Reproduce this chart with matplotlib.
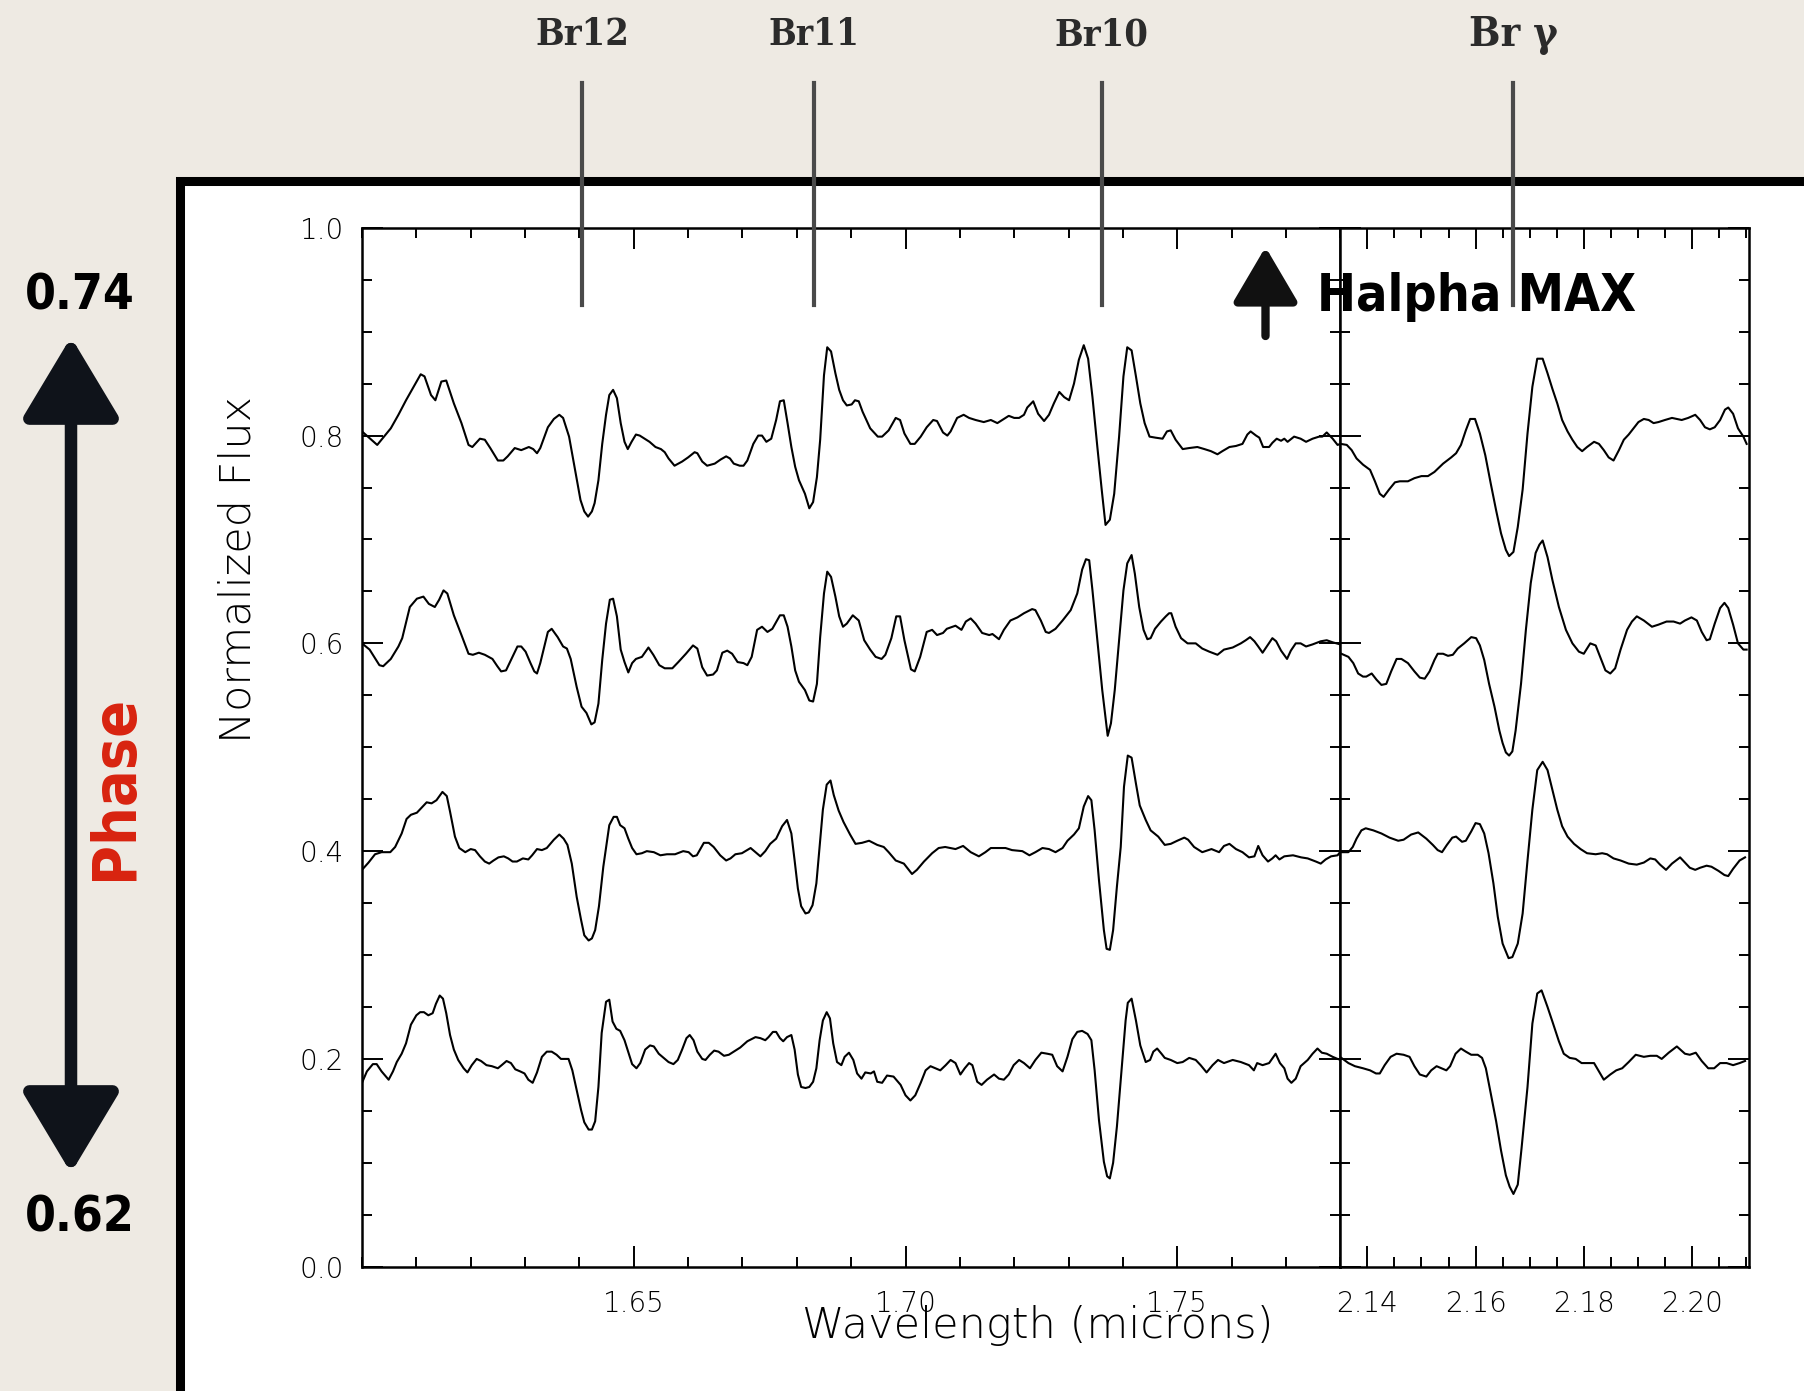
import matplotlib
matplotlib.use("Agg")
import matplotlib.pyplot as plt
import matplotlib.transforms as mtransforms
from matplotlib import font_manager
from matplotlib.font_manager import FontProperties
from matplotlib.patches import Rectangle, FancyArrowPatch
from matplotlib.ticker import MultipleLocator

# ---- data ----
# H band panel, four phases (top = 0.74 ... bottom = 0.62)
wl_h1 = [1.6000, 1.6028, 1.6053, 1.6067, 1.6081, 1.6095, 1.6108, 1.6115, 1.6127, 1.6135, 1.6146, 1.6155,
         1.6169, 1.6183, 1.6196, 1.6203, 1.6217, 1.6226, 1.6236, 1.6250, 1.6260, 1.6268, 1.6281, 1.6293,
         1.6307, 1.6315, 1.6322, 1.6328, 1.6342, 1.6353, 1.6363, 1.6370, 1.6381, 1.6392, 1.6402, 1.6409,
         1.6416, 1.6423, 1.6428, 1.6435, 1.6442, 1.6449, 1.6455, 1.6462, 1.6469, 1.6476, 1.6483, 1.6489,
         1.6496, 1.6504, 1.6511, 1.6520, 1.6529, 1.6540, 1.6550, 1.6557, 1.6564, 1.6575, 1.6589, 1.6600,
         1.6612, 1.6617, 1.6626, 1.6635, 1.6649, 1.6660, 1.6670, 1.6677, 1.6684, 1.6695, 1.6702, 1.6709,
         1.6720, 1.6729, 1.6736, 1.6744, 1.6753, 1.6762, 1.6769, 1.6776, 1.6783, 1.6790, 1.6797, 1.6804,
         1.6815, 1.6823, 1.6830, 1.6837, 1.6843, 1.6850, 1.6856, 1.6863, 1.6871, 1.6878, 1.6885, 1.6892,
         1.6901, 1.6907, 1.6914, 1.6921, 1.6935, 1.6949, 1.6957, 1.6969, 1.6982, 1.6990, 1.6998, 1.7009,
         1.7017, 1.7028, 1.7039, 1.7051, 1.7058, 1.7069, 1.7077, 1.7083, 1.7095, 1.7107, 1.7117, 1.7129,
         1.7144, 1.7157, 1.7169, 1.7178, 1.7190, 1.7200, 1.7209, 1.7218, 1.7224, 1.7235, 1.7244, 1.7255,
         1.7264, 1.7273, 1.7283, 1.7292, 1.7301, 1.7310, 1.7319, 1.7328, 1.7336, 1.7344, 1.7353, 1.7361,
         1.7368, 1.7376, 1.7384, 1.7393, 1.7401, 1.7408, 1.7416, 1.7424, 1.7432, 1.7440, 1.7449, 1.7460,
         1.7473, 1.7481, 1.7488, 1.7497, 1.7510, 1.7522, 1.7537, 1.7550, 1.7562, 1.7574, 1.7583, 1.7596,
         1.7608, 1.7620, 1.7629, 1.7635, 1.7645, 1.7651, 1.7658, 1.7669, 1.7675, 1.7683, 1.7691, 1.7697,
         1.7703, 1.7715, 1.7727, 1.7737, 1.7749, 1.7761, 1.7767, 1.7775, 1.7786, 1.7795, 1.7800]
fx_h1 = [0.804, 0.791, 0.807, 0.820, 0.834, 0.847, 0.859, 0.857, 0.839, 0.834, 0.852, 0.853,
         0.831, 0.812, 0.791, 0.789, 0.797, 0.796, 0.788, 0.776, 0.776, 0.780, 0.788, 0.786,
         0.789, 0.787, 0.783, 0.788, 0.808, 0.816, 0.820, 0.817, 0.799, 0.767, 0.738, 0.727,
         0.722, 0.727, 0.735, 0.757, 0.792, 0.820, 0.839, 0.844, 0.836, 0.812, 0.794, 0.787,
         0.794, 0.801, 0.800, 0.797, 0.794, 0.789, 0.787, 0.784, 0.778, 0.771, 0.775, 0.779,
         0.784, 0.783, 0.775, 0.771, 0.773, 0.777, 0.780, 0.778, 0.773, 0.771, 0.771, 0.776,
         0.792, 0.800, 0.800, 0.794, 0.797, 0.815, 0.833, 0.834, 0.812, 0.789, 0.770, 0.757,
         0.744, 0.730, 0.736, 0.760, 0.796, 0.858, 0.885, 0.881, 0.860, 0.844, 0.834, 0.829,
         0.830, 0.834, 0.833, 0.823, 0.807, 0.799, 0.799, 0.805, 0.817, 0.815, 0.802, 0.792,
         0.792, 0.799, 0.808, 0.815, 0.814, 0.803, 0.800, 0.804, 0.817, 0.820, 0.817, 0.815,
         0.813, 0.815, 0.812, 0.815, 0.819, 0.817, 0.817, 0.820, 0.827, 0.833, 0.821, 0.814,
         0.820, 0.831, 0.842, 0.837, 0.834, 0.850, 0.873, 0.887, 0.874, 0.837, 0.789, 0.748,
         0.714, 0.719, 0.744, 0.799, 0.857, 0.885, 0.882, 0.857, 0.831, 0.812, 0.799, 0.798,
         0.797, 0.804, 0.805, 0.796, 0.787, 0.788, 0.789, 0.787, 0.785, 0.782, 0.785, 0.789,
         0.790, 0.792, 0.801, 0.804, 0.800, 0.798, 0.789, 0.789, 0.793, 0.797, 0.795, 0.797,
         0.794, 0.799, 0.797, 0.794, 0.797, 0.799, 0.799, 0.803, 0.797, 0.791, 0.792]

wl_h2 = [1.6000, 1.6014, 1.6032, 1.6039, 1.6053, 1.6067, 1.6074, 1.6088, 1.6101, 1.6113, 1.6123, 1.6134,
         1.6142, 1.6150, 1.6157, 1.6169, 1.6183, 1.6196, 1.6204, 1.6215, 1.6226, 1.6240, 1.6249, 1.6256,
         1.6265, 1.6275, 1.6286, 1.6293, 1.6301, 1.6310, 1.6317, 1.6322, 1.6328, 1.6342, 1.6349, 1.6360,
         1.6370, 1.6377, 1.6384, 1.6395, 1.6404, 1.6413, 1.6422, 1.6428, 1.6435, 1.6442, 1.6449, 1.6456,
         1.6462, 1.6469, 1.6476, 1.6483, 1.6490, 1.6497, 1.6504, 1.6515, 1.6527, 1.6536, 1.6547, 1.6557,
         1.6571, 1.6582, 1.6596, 1.6609, 1.6617, 1.6626, 1.6635, 1.6646, 1.6653, 1.6663, 1.6672, 1.6681,
         1.6691, 1.6702, 1.6709, 1.6717, 1.6727, 1.6736, 1.6746, 1.6755, 1.6769, 1.6776, 1.6783, 1.6790,
         1.6797, 1.6804, 1.6815, 1.6823, 1.6830, 1.6837, 1.6843, 1.6850, 1.6856, 1.6863, 1.6871, 1.6878,
         1.6885, 1.6892, 1.6903, 1.6914, 1.6924, 1.6935, 1.6945, 1.6956, 1.6963, 1.6974, 1.6983, 1.6990,
         1.6998, 1.7010, 1.7017, 1.7027, 1.7039, 1.7049, 1.7058, 1.7069, 1.7076, 1.7092, 1.7103, 1.7111,
         1.7120, 1.7129, 1.7141, 1.7154, 1.7160, 1.7172, 1.7181, 1.7193, 1.7206, 1.7218, 1.7233, 1.7239,
         1.7249, 1.7258, 1.7264, 1.7276, 1.7289, 1.7304, 1.7316, 1.7325, 1.7332, 1.7338, 1.7344, 1.7353,
         1.7362, 1.7372, 1.7378, 1.7385, 1.7393, 1.7401, 1.7408, 1.7416, 1.7422, 1.7430, 1.7438, 1.7445,
         1.7451, 1.7459, 1.7470, 1.7479, 1.7485, 1.7489, 1.7497, 1.7507, 1.7519, 1.7534, 1.7546, 1.7559,
         1.7574, 1.7586, 1.7602, 1.7617, 1.7626, 1.7634, 1.7642, 1.7649, 1.7657, 1.7666, 1.7675, 1.7682,
         1.7691, 1.7702, 1.7709, 1.7718, 1.7727, 1.7737, 1.7749, 1.7764, 1.7775, 1.7786, 1.7800]
fx_h2 = [0.600, 0.594, 0.579, 0.578, 0.585, 0.597, 0.605, 0.635, 0.643, 0.645, 0.638, 0.635,
         0.642, 0.651, 0.648, 0.627, 0.608, 0.590, 0.589, 0.591, 0.589, 0.585, 0.578, 0.573,
         0.574, 0.585, 0.597, 0.597, 0.592, 0.581, 0.573, 0.571, 0.581, 0.611, 0.614, 0.606,
         0.597, 0.595, 0.585, 0.558, 0.539, 0.533, 0.522, 0.524, 0.542, 0.584, 0.619, 0.642,
         0.643, 0.626, 0.594, 0.582, 0.572, 0.581, 0.585, 0.587, 0.596, 0.589, 0.579, 0.576,
         0.576, 0.582, 0.590, 0.598, 0.595, 0.577, 0.569, 0.570, 0.574, 0.591, 0.593, 0.590,
         0.582, 0.581, 0.579, 0.587, 0.613, 0.616, 0.611, 0.614, 0.627, 0.627, 0.616, 0.597,
         0.574, 0.563, 0.555, 0.545, 0.544, 0.561, 0.606, 0.648, 0.669, 0.664, 0.645, 0.626,
         0.616, 0.619, 0.627, 0.622, 0.603, 0.594, 0.587, 0.585, 0.589, 0.605, 0.626, 0.626,
         0.603, 0.575, 0.573, 0.587, 0.611, 0.613, 0.608, 0.610, 0.614, 0.617, 0.613, 0.621,
         0.624, 0.619, 0.610, 0.608, 0.609, 0.604, 0.613, 0.622, 0.625, 0.629, 0.633, 0.632,
         0.622, 0.611, 0.610, 0.614, 0.622, 0.632, 0.648, 0.671, 0.681, 0.680, 0.651, 0.603,
         0.555, 0.511, 0.523, 0.555, 0.603, 0.651, 0.677, 0.685, 0.667, 0.635, 0.613, 0.604,
         0.605, 0.614, 0.621, 0.626, 0.629, 0.629, 0.616, 0.605, 0.600, 0.600, 0.595, 0.592,
         0.589, 0.594, 0.596, 0.600, 0.603, 0.606, 0.602, 0.597, 0.591, 0.598, 0.605, 0.602,
         0.593, 0.585, 0.593, 0.600, 0.600, 0.597, 0.599, 0.602, 0.603, 0.601, 0.599]

wl_h3 = [1.6000, 1.6012, 1.6024, 1.6036, 1.6052, 1.6061, 1.6073, 1.6082, 1.6090, 1.6101, 1.6110, 1.6119,
         1.6128, 1.6137, 1.6148, 1.6156, 1.6162, 1.6171, 1.6179, 1.6190, 1.6200, 1.6208, 1.6217, 1.6226,
         1.6234, 1.6242, 1.6251, 1.6261, 1.6269, 1.6277, 1.6285, 1.6296, 1.6306, 1.6313, 1.6322, 1.6331,
         1.6340, 1.6353, 1.6363, 1.6371, 1.6378, 1.6386, 1.6395, 1.6403, 1.6409, 1.6417, 1.6423, 1.6429,
         1.6436, 1.6444, 1.6455, 1.6463, 1.6469, 1.6475, 1.6483, 1.6490, 1.6497, 1.6505, 1.6515, 1.6524,
         1.6537, 1.6549, 1.6561, 1.6576, 1.6591, 1.6601, 1.6609, 1.6616, 1.6629, 1.6638, 1.6647, 1.6659,
         1.6670, 1.6678, 1.6687, 1.6699, 1.6715, 1.6724, 1.6733, 1.6742, 1.6751, 1.6762, 1.6773, 1.6782,
         1.6790, 1.6796, 1.6802, 1.6808, 1.6816, 1.6822, 1.6829, 1.6836, 1.6842, 1.6848, 1.6855, 1.6862,
         1.6868, 1.6877, 1.6886, 1.6898, 1.6908, 1.6920, 1.6933, 1.6948, 1.6960, 1.6969, 1.6982, 1.6997,
         1.7012, 1.7021, 1.7034, 1.7049, 1.7061, 1.7073, 1.7092, 1.7106, 1.7120, 1.7135, 1.7147, 1.7157,
         1.7169, 1.7184, 1.7196, 1.7215, 1.7228, 1.7239, 1.7252, 1.7264, 1.7276, 1.7289, 1.7298, 1.7310,
         1.7319, 1.7328, 1.7336, 1.7342, 1.7348, 1.7356, 1.7365, 1.7370, 1.7376, 1.7382, 1.7389, 1.7396,
         1.7402, 1.7409, 1.7416, 1.7424, 1.7431, 1.7442, 1.7451, 1.7465, 1.7477, 1.7488, 1.7500, 1.7513,
         1.7520, 1.7531, 1.7546, 1.7563, 1.7577, 1.7586, 1.7596, 1.7608, 1.7620, 1.7632, 1.7642, 1.7649,
         1.7657, 1.7667, 1.7675, 1.7681, 1.7688, 1.7697, 1.7713, 1.7728, 1.7740, 1.7755, 1.7764, 1.7773,
         1.7783, 1.7795, 1.7801]
fx_h3 = [0.382, 0.389, 0.397, 0.399, 0.399, 0.404, 0.417, 0.431, 0.435, 0.437, 0.442, 0.447,
         0.446, 0.449, 0.457, 0.453, 0.438, 0.414, 0.403, 0.399, 0.402, 0.401, 0.395, 0.390,
         0.388, 0.391, 0.394, 0.395, 0.393, 0.390, 0.390, 0.393, 0.392, 0.396, 0.402, 0.401,
         0.403, 0.411, 0.416, 0.412, 0.406, 0.388, 0.356, 0.334, 0.319, 0.314, 0.316, 0.324,
         0.347, 0.385, 0.425, 0.433, 0.433, 0.425, 0.422, 0.412, 0.403, 0.397, 0.398, 0.400,
         0.399, 0.396, 0.397, 0.397, 0.400, 0.399, 0.395, 0.396, 0.408, 0.408, 0.404, 0.396,
         0.391, 0.393, 0.397, 0.398, 0.403, 0.399, 0.395, 0.400, 0.407, 0.412, 0.424, 0.430,
         0.417, 0.391, 0.364, 0.347, 0.340, 0.341, 0.348, 0.369, 0.404, 0.440, 0.464, 0.468,
         0.454, 0.439, 0.428, 0.416, 0.407, 0.408, 0.410, 0.406, 0.404, 0.399, 0.391, 0.388,
         0.378, 0.382, 0.390, 0.398, 0.403, 0.404, 0.402, 0.405, 0.399, 0.395, 0.399, 0.403,
         0.403, 0.403, 0.401, 0.400, 0.396, 0.399, 0.403, 0.402, 0.399, 0.403, 0.410, 0.416,
         0.422, 0.443, 0.453, 0.449, 0.420, 0.372, 0.324, 0.306, 0.305, 0.324, 0.366, 0.404,
         0.462, 0.492, 0.490, 0.465, 0.444, 0.430, 0.420, 0.414, 0.406, 0.407, 0.410, 0.413,
         0.411, 0.404, 0.399, 0.402, 0.399, 0.405, 0.407, 0.402, 0.399, 0.394, 0.395, 0.405,
         0.396, 0.390, 0.393, 0.396, 0.392, 0.395, 0.396, 0.394, 0.393, 0.390, 0.388, 0.392,
         0.395, 0.396, 0.400]

wl_h4 = [1.6000, 1.6009, 1.6020, 1.6027, 1.6036, 1.6049, 1.6057, 1.6064, 1.6073, 1.6081, 1.6090, 1.6100,
         1.6107, 1.6114, 1.6122, 1.6130, 1.6136, 1.6143, 1.6149, 1.6155, 1.6162, 1.6169, 1.6177, 1.6187,
         1.6194, 1.6202, 1.6211, 1.6219, 1.6229, 1.6239, 1.6250, 1.6257, 1.6266, 1.6274, 1.6282, 1.6291,
         1.6299, 1.6306, 1.6314, 1.6322, 1.6331, 1.6340, 1.6349, 1.6358, 1.6366, 1.6374, 1.6380, 1.6387,
         1.6395, 1.6403, 1.6409, 1.6417, 1.6423, 1.6429, 1.6435, 1.6441, 1.6449, 1.6455, 1.6461, 1.6468,
         1.6475, 1.6483, 1.6491, 1.6497, 1.6505, 1.6512, 1.6521, 1.6530, 1.6537, 1.6546, 1.6555, 1.6564,
         1.6573, 1.6581, 1.6589, 1.6597, 1.6603, 1.6610, 1.6617, 1.6626, 1.6632, 1.6640, 1.6648, 1.6656,
         1.6666, 1.6675, 1.6684, 1.6696, 1.6709, 1.6724, 1.6733, 1.6742, 1.6748, 1.6756, 1.6762, 1.6769,
         1.6775, 1.6782, 1.6790, 1.6796, 1.6802, 1.6808, 1.6816, 1.6823, 1.6830, 1.6836, 1.6842, 1.6848,
         1.6855, 1.6861, 1.6867, 1.6874, 1.6882, 1.6888, 1.6896, 1.6904, 1.6911, 1.6919, 1.6926, 1.6936,
         1.6942, 1.6948, 1.6957, 1.6966, 1.6978, 1.6991, 1.7000, 1.7009, 1.7018, 1.7028, 1.7037, 1.7046,
         1.7055, 1.7064, 1.7074, 1.7083, 1.7092, 1.7101, 1.7109, 1.7117, 1.7123, 1.7132, 1.7140, 1.7150,
         1.7163, 1.7172, 1.7181, 1.7190, 1.7199, 1.7209, 1.7218, 1.7229, 1.7239, 1.7250, 1.7261, 1.7270,
         1.7279, 1.7289, 1.7298, 1.7307, 1.7316, 1.7325, 1.7335, 1.7342, 1.7348, 1.7356, 1.7365, 1.7371,
         1.7376, 1.7382, 1.7389, 1.7397, 1.7405, 1.7409, 1.7416, 1.7424, 1.7432, 1.7442, 1.7450, 1.7456,
         1.7463, 1.7471, 1.7477, 1.7488, 1.7500, 1.7510, 1.7522, 1.7534, 1.7543, 1.7554, 1.7565, 1.7575,
         1.7586, 1.7602, 1.7617, 1.7632, 1.7641, 1.7647, 1.7657, 1.7669, 1.7681, 1.7689, 1.7697, 1.7703,
         1.7710, 1.7718, 1.7727, 1.7740, 1.7749, 1.7758, 1.7766, 1.7775, 1.7786, 1.7795, 1.7801]
fx_h4 = [0.177, 0.188, 0.195, 0.195, 0.188, 0.180, 0.188, 0.197, 0.205, 0.215, 0.233, 0.242,
         0.245, 0.245, 0.242, 0.244, 0.253, 0.261, 0.258, 0.244, 0.223, 0.209, 0.199, 0.191,
         0.187, 0.194, 0.200, 0.198, 0.194, 0.193, 0.191, 0.194, 0.198, 0.196, 0.190, 0.188,
         0.186, 0.180, 0.177, 0.187, 0.202, 0.207, 0.207, 0.204, 0.200, 0.200, 0.200, 0.189,
         0.170, 0.151, 0.139, 0.132, 0.132, 0.140, 0.173, 0.225, 0.255, 0.257, 0.236, 0.229,
         0.227, 0.218, 0.205, 0.195, 0.191, 0.196, 0.209, 0.213, 0.212, 0.205, 0.201, 0.197,
         0.195, 0.199, 0.209, 0.220, 0.223, 0.218, 0.207, 0.200, 0.199, 0.204, 0.208, 0.207,
         0.203, 0.204, 0.207, 0.211, 0.217, 0.221, 0.220, 0.218, 0.221, 0.226, 0.226, 0.220,
         0.217, 0.221, 0.223, 0.209, 0.185, 0.173, 0.172, 0.173, 0.178, 0.191, 0.218, 0.237,
         0.245, 0.239, 0.215, 0.197, 0.194, 0.202, 0.206, 0.199, 0.186, 0.181, 0.187, 0.186,
         0.188, 0.178, 0.177, 0.184, 0.183, 0.175, 0.165, 0.160, 0.165, 0.177, 0.189, 0.193,
         0.191, 0.189, 0.194, 0.199, 0.196, 0.185, 0.191, 0.196, 0.194, 0.178, 0.175, 0.180,
         0.185, 0.181, 0.180, 0.185, 0.194, 0.199, 0.196, 0.191, 0.199, 0.206, 0.205, 0.204,
         0.193, 0.188, 0.202, 0.219, 0.226, 0.227, 0.224, 0.218, 0.189, 0.141, 0.101, 0.087,
         0.085, 0.100, 0.135, 0.186, 0.237, 0.254, 0.258, 0.237, 0.213, 0.197, 0.199, 0.207,
         0.210, 0.205, 0.201, 0.199, 0.196, 0.197, 0.201, 0.199, 0.194, 0.187, 0.194, 0.199,
         0.196, 0.199, 0.197, 0.194, 0.189, 0.196, 0.194, 0.196, 0.205, 0.196, 0.191, 0.181,
         0.177, 0.181, 0.193, 0.199, 0.205, 0.210, 0.206, 0.205, 0.202, 0.200, 0.199]

# K band panel (Br gamma), same four phases
wl_k1 = [2.1351, 2.1362, 2.1371, 2.1380, 2.1392, 2.1405, 2.1414, 2.1423, 2.1430, 2.1440, 2.1451, 2.1460,
         2.1475, 2.1487, 2.1500, 2.1512, 2.1524, 2.1540, 2.1555, 2.1564, 2.1573, 2.1582, 2.1590, 2.1599,
         2.1608, 2.1618, 2.1628, 2.1638, 2.1647, 2.1656, 2.1662, 2.1670, 2.1678, 2.1687, 2.1696, 2.1705,
         2.1714, 2.1724, 2.1733, 2.1742, 2.1751, 2.1760, 2.1770, 2.1779, 2.1788, 2.1797, 2.1806, 2.1819,
         2.1828, 2.1837, 2.1846, 2.1855, 2.1865, 2.1874, 2.1883, 2.1892, 2.1901, 2.1911, 2.1920, 2.1929,
         2.1938, 2.1950, 2.1963, 2.1972, 2.1981, 2.1993, 2.2006, 2.2015, 2.2024, 2.2033, 2.2042, 2.2052,
         2.2061, 2.2067, 2.2076, 2.2085, 2.2095, 2.2101]
fx_k1 = [0.792, 0.791, 0.786, 0.778, 0.772, 0.767, 0.756, 0.744, 0.741, 0.748, 0.755, 0.756,
         0.756, 0.759, 0.761, 0.761, 0.765, 0.773, 0.779, 0.783, 0.791, 0.805, 0.816, 0.816,
         0.802, 0.781, 0.754, 0.728, 0.706, 0.690, 0.684, 0.688, 0.712, 0.748, 0.802, 0.847,
         0.874, 0.874, 0.860, 0.845, 0.831, 0.815, 0.804, 0.796, 0.789, 0.785, 0.789, 0.794,
         0.792, 0.786, 0.779, 0.776, 0.786, 0.796, 0.801, 0.807, 0.813, 0.816, 0.815, 0.812,
         0.813, 0.815, 0.817, 0.816, 0.815, 0.817, 0.820, 0.815, 0.808, 0.806, 0.808, 0.815,
         0.825, 0.827, 0.821, 0.807, 0.799, 0.792]

wl_k2 = [2.1352, 2.1365, 2.1374, 2.1383, 2.1392, 2.1398, 2.1408, 2.1417, 2.1426, 2.1435, 2.1444, 2.1454,
         2.1463, 2.1475, 2.1487, 2.1497, 2.1506, 2.1515, 2.1524, 2.1530, 2.1540, 2.1549, 2.1558, 2.1567,
         2.1579, 2.1592, 2.1601, 2.1608, 2.1616, 2.1625, 2.1635, 2.1644, 2.1650, 2.1656, 2.1662, 2.1668,
         2.1674, 2.1684, 2.1693, 2.1702, 2.1711, 2.1718, 2.1724, 2.1733, 2.1742, 2.1754, 2.1767, 2.1779,
         2.1791, 2.1800, 2.1812, 2.1822, 2.1831, 2.1840, 2.1849, 2.1858, 2.1868, 2.1880, 2.1889, 2.1898,
         2.1911, 2.1926, 2.1938, 2.1953, 2.1966, 2.1978, 2.1987, 2.1999, 2.2009, 2.2018, 2.2027, 2.2033,
         2.2042, 2.2052, 2.2060, 2.2067, 2.2076, 2.2085, 2.2095, 2.2101]
fx_k2 = [0.590, 0.587, 0.581, 0.571, 0.568, 0.568, 0.571, 0.565, 0.560, 0.561, 0.573, 0.585,
         0.585, 0.581, 0.573, 0.567, 0.566, 0.573, 0.584, 0.590, 0.590, 0.588, 0.589, 0.595,
         0.600, 0.606, 0.605, 0.598, 0.584, 0.561, 0.539, 0.516, 0.504, 0.495, 0.492, 0.496,
         0.516, 0.561, 0.613, 0.658, 0.687, 0.695, 0.699, 0.683, 0.661, 0.635, 0.613, 0.600,
         0.592, 0.590, 0.600, 0.598, 0.586, 0.574, 0.571, 0.576, 0.594, 0.613, 0.621, 0.626,
         0.622, 0.616, 0.618, 0.621, 0.621, 0.619, 0.622, 0.625, 0.622, 0.611, 0.603, 0.604,
         0.619, 0.634, 0.639, 0.634, 0.618, 0.600, 0.594, 0.594]

wl_k3 = [2.1351, 2.1365, 2.1373, 2.1380, 2.1389, 2.1397, 2.1411, 2.1426, 2.1441, 2.1457, 2.1467, 2.1481,
         2.1494, 2.1509, 2.1521, 2.1530, 2.1538, 2.1547, 2.1557, 2.1564, 2.1575, 2.1582, 2.1592, 2.1600,
         2.1608, 2.1616, 2.1624, 2.1633, 2.1641, 2.1650, 2.1661, 2.1668, 2.1678, 2.1687, 2.1696, 2.1705,
         2.1714, 2.1724, 2.1733, 2.1742, 2.1751, 2.1760, 2.1770, 2.1782, 2.1794, 2.1806, 2.1822, 2.1834,
         2.1843, 2.1855, 2.1868, 2.1883, 2.1898, 2.1911, 2.1923, 2.1932, 2.1941, 2.1952, 2.1963, 2.1978,
         2.1987, 2.1996, 2.2006, 2.2015, 2.2027, 2.2036, 2.2049, 2.2060, 2.2067, 2.2076, 2.2088, 2.2098]
fx_k3 = [0.399, 0.399, 0.404, 0.412, 0.420, 0.422, 0.420, 0.417, 0.413, 0.410, 0.411, 0.416,
         0.418, 0.412, 0.406, 0.401, 0.399, 0.406, 0.413, 0.414, 0.409, 0.410, 0.419, 0.427,
         0.426, 0.417, 0.398, 0.369, 0.337, 0.311, 0.297, 0.298, 0.311, 0.340, 0.391, 0.440,
         0.478, 0.486, 0.478, 0.459, 0.440, 0.424, 0.414, 0.407, 0.402, 0.398, 0.397, 0.398,
         0.397, 0.393, 0.391, 0.388, 0.387, 0.389, 0.393, 0.392, 0.387, 0.382, 0.388, 0.394,
         0.389, 0.384, 0.382, 0.384, 0.386, 0.385, 0.381, 0.377, 0.376, 0.383, 0.391, 0.394]

wl_k4 = [2.1352, 2.1365, 2.1377, 2.1392, 2.1405, 2.1416, 2.1423, 2.1432, 2.1443, 2.1454, 2.1467, 2.1478,
         2.1487, 2.1497, 2.1509, 2.1518, 2.1528, 2.1546, 2.1553, 2.1563, 2.1573, 2.1582, 2.1592, 2.1604,
         2.1612, 2.1619, 2.1628, 2.1638, 2.1647, 2.1656, 2.1663, 2.1670, 2.1678, 2.1685, 2.1696, 2.1705,
         2.1714, 2.1722, 2.1733, 2.1742, 2.1754, 2.1763, 2.1774, 2.1785, 2.1796, 2.1806, 2.1819, 2.1828,
         2.1837, 2.1849, 2.1860, 2.1871, 2.1883, 2.1896, 2.1911, 2.1923, 2.1935, 2.1944, 2.1957, 2.1972,
         2.1987, 2.1996, 2.2007, 2.2018, 2.2030, 2.2041, 2.2052, 2.2064, 2.2076, 2.2088, 2.2098]
fx_k4 = [0.201, 0.196, 0.193, 0.191, 0.189, 0.186, 0.186, 0.194, 0.202, 0.205, 0.204, 0.202,
         0.193, 0.185, 0.183, 0.189, 0.193, 0.189, 0.193, 0.205, 0.210, 0.207, 0.204, 0.204,
         0.201, 0.191, 0.167, 0.140, 0.112, 0.088, 0.077, 0.070, 0.079, 0.114, 0.173, 0.234,
         0.263, 0.266, 0.250, 0.236, 0.217, 0.205, 0.201, 0.200, 0.196, 0.196, 0.196, 0.188,
         0.180, 0.185, 0.189, 0.191, 0.197, 0.204, 0.202, 0.203, 0.203, 0.200, 0.206, 0.212,
         0.205, 0.204, 0.206, 0.198, 0.191, 0.191, 0.196, 0.196, 0.194, 0.196, 0.198]

line_names = ["Br12", "Br11", "Br10", "Br γ"]
line_waves = [1.6405, 1.6831, 1.7361, 2.1670]
phase_top = "0.74"
phase_bottom = "0.62"


# ---- fonts: look for the narrowest bold face available, otherwise fall back ----
def find_condensed(serif):
    ranks = {"ultra-condensed": 1, "extra-condensed": 0, "condensed": 2, "semi-condensed": 3}
    best, best_rank = None, 99
    for f in font_manager.fontManager.ttflist:
        nm = f.name.lower()
        st = str(f.stretch).lower()
        if f.style != "normal":
            continue
        if not ("condensed" in st or "narrow" in nm or "condensed" in nm):
            continue
        w = f.weight if isinstance(f.weight, int) else font_manager.weight_dict.get(f.weight, 400)
        if w < 600 or w > 800:
            continue
        is_serif = "serif" in nm and "sans" not in nm
        if is_serif != serif:
            continue
        rank = ranks.get(st, 2)
        if rank < best_rank:
            best, best_rank = f, rank
    return best


cond_sans = find_condensed(False)
cond_serif = find_condensed(True)
fp_bold = FontProperties(fname=cond_sans.fname) if cond_sans else FontProperties(family="Liberation Sans", weight="bold")
fp_serif = FontProperties(fname=cond_serif.fname) if cond_serif else FontProperties(family="Liberation Serif", weight="bold")
thin = dict(family="DejaVu Sans", weight="light")

W, H = 1804, 1391
fig = plt.figure(figsize=(W / 100, H / 100), dpi=100, facecolor="#eeeae3")
renderer = fig.canvas.get_renderer()


def fit(txt, target, use_height=False):
    # scale a text so its extent matches the size measured on the reference
    bb = txt.get_window_extent(renderer)
    size = bb.height if use_height else bb.width
    txt.set_fontsize(txt.get_fontsize() * target / size)


# white card with thick black border (runs off the right and bottom)
fig.add_artist(Rectangle((179.5 / W, -0.05), 1.2, (H - 181) / H + 0.05, transform=fig.transFigure,
                         facecolor="white", edgecolor="black", linewidth=6.5, zorder=-10))

y0, y1 = 1 - 1266.7 / H, 1 - 227.8 / H
xl0, xmid, xr1 = 362 / W, 1340.3 / W, 1748.8 / W
axL = fig.add_axes([xl0, y0, xmid - xl0, y1 - y0])
axR = fig.add_axes([xmid, y0, xr1 - xmid, y1 - y0])

for wl, fx in [(wl_h1, fx_h1), (wl_h2, fx_h2), (wl_h3, fx_h3), (wl_h4, fx_h4)]:
    axL.plot(wl, fx, color="black", lw=1.5)
for wl, fx in [(wl_k1, fx_k1), (wl_k2, fx_k2), (wl_k3, fx_k3), (wl_k4, fx_k4)]:
    axR.plot(wl, fx, color="black", lw=1.5)

axL.set_xlim(1.60, 1.78)
axR.set_xlim(2.135, 2.2105)
for ax in (axL, axR):
    ax.set_ylim(0, 1)
    ax.set_yticks([0, 0.2, 0.4, 0.6, 0.8, 1.0])
    ax.yaxis.set_minor_locator(MultipleLocator(0.05))
    ax.tick_params(which="both", direction="in", top=True, right=True, width=1.4, colors="black")
    ax.tick_params(which="major", length=15)
    ax.tick_params(which="minor", length=7.5)
    for s in ax.spines.values():
        s.set_linewidth(1.8)
axL.set_xticks([1.65, 1.70, 1.75])
axL.xaxis.set_minor_locator(MultipleLocator(0.01))
axR.set_xticks([2.14, 2.16, 2.18, 2.20])
axR.xaxis.set_minor_locator(MultipleLocator(0.005))
axR.tick_params(labelleft=False)
axL.tick_params(axis="y", pad=13)
for ax in (axL, axR):
    ax.tick_params(axis="x", pad=17)
    for lab in ax.get_xticklabels() + ax.get_yticklabels():
        lab.set_fontsize(20)
        lab.set_fontfamily(thin["family"])
        lab.set_fontweight(thin["weight"])

fig.text(1038 / W, 1 - 1326 / H, "Wavelength (microns)", fontsize=31, ha="center", va="center", **thin)
fig.text(238 / W, 1 - 569 / H, "Normalized Flux", fontsize=31, rotation=90, ha="center", va="center", **thin)

# Brackett line markers above the plot
label_widths = [94, 91, 94, 89]
for name, wv, tw in zip(line_names, line_waves, label_widths):
    ax = axL if wv < 2 else axR
    tr = mtransforms.blended_transform_factory(ax.transData, ax.transAxes)
    ax.plot([wv, wv], [0.926, 1.139], transform=tr, color="#4a4a4a", lw=3, clip_on=False, zorder=5)
    t = ax.text(wv, 1.186, name, transform=tr, ha="center", va="center",
                fontproperties=fp_serif, color="#2b2b2b", clip_on=False)
    t.set_fontsize(32)
    if cond_serif:
        fit(t, tw)

# Halpha max annotation
fig.add_artist(FancyArrowPatch((1265.5, H - 336), (1265.5, H - 247), transform=None,
                               arrowstyle="-|>,head_length=34,head_width=20", mutation_scale=1,
                               lw=6, color="#111111", shrinkA=0, shrinkB=0, zorder=6))
t = fig.text(1317 / W, 1 - 297 / H, "Halpha MAX", fontproperties=fp_bold,
             ha="left", va="center", color="black", zorder=6)
t.set_fontsize(48)
fit(t, 319)

# phase axis on the left
fig.add_artist(FancyArrowPatch((71, H - 1173), (71, H - 337), transform=None,
                               arrowstyle="<|-|>,head_length=50,head_width=30", mutation_scale=1,
                               lw=9, color="#0f131a", shrinkA=0, shrinkB=0))
for txt, yc in [(phase_top, 296), (phase_bottom, 1218)]:
    t = fig.text(80 / W, 1 - yc / H, txt, fontproperties=fp_bold, ha="center", va="center", color="black")
    t.set_fontsize(50)
    fit(t, 110)
t = fig.text(116 / W, 1 - 787 / H, "Phase", fontproperties=fp_bold, rotation=90,
             ha="center", va="center", color="#d8230f")
t.set_fontsize(55)
fit(t, 185, use_height=True)

fig.savefig("out.png", dpi=100, facecolor=fig.get_facecolor())
